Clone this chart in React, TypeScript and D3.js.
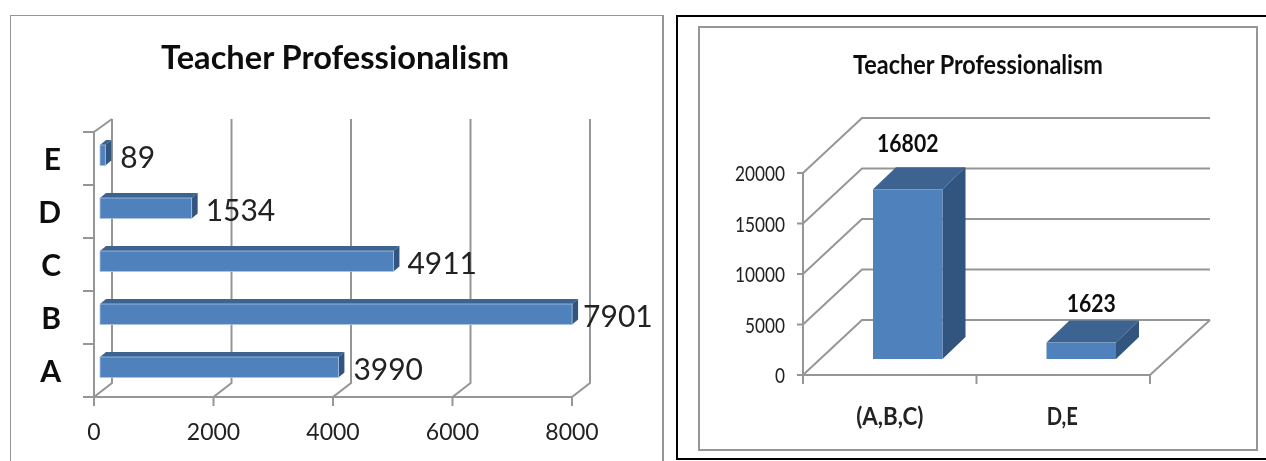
import React from "react";
import * as d3 from "d3";

const title = "Teacher Professionalism";
const leftCategories = ["A", "B", "C", "D", "E"];
const leftValues = [3990, 7901, 4911, 1534, 89];
const leftTicks = [0, 2000, 4000, 6000, 8000];
const rightCategories = ["(A,B,C)", "D,E"];
const rightValues = [16802, 1623];
const rightTicks = [0, 5000, 10000, 15000, 20000];

const GRID = "#969696";
const FRONT = "#4f81bd";
const TOP = "#3c6391";
const SIDE = "#31557f";
const FONT = "Lato, sans-serif";
const pts = (p: number[][]) => p.map((q) => q.join(",")).join(" ");

function LeftChart() {
  const x = d3.scaleLinear().domain([0, 8000]).range([94, 572]);
  const band = d3.scaleBand<string>().domain([...leftCategories].reverse()).range([132, 397]);
  const dx = 18, dy = 14, bx = 6, by = 5;
  const bw = band.bandwidth();
  const barX = x(0) + bx;
  const labelGap = [15, 11, 14, 14, 15];
  return (
    <g fontFamily={FONT}>
      <rect x={10} y={15} width={653} height={470} fill="#fff" stroke="#969696" strokeWidth={2} />
      <text x={335} y={69} textAnchor="middle" fontSize={33} fontWeight={700} fill="#111" textLength={348} lengthAdjust="spacingAndGlyphs">{title}</text>
      {leftTicks.map((t) => (
        <g key={t}>
          <polyline fill="none" stroke={GRID} strokeWidth={2} points={pts([[x(t), 406], [x(t), 397], [x(t) + dx, 397 - dy], [x(t) + dx, 119]])} />
          <text x={x(t)} y={440} textAnchor="middle" fontSize={23} fill="#222">{t}</text>
        </g>
      ))}
      <line x1={x(0)} x2={x(8000)} y1={397} y2={397} stroke={GRID} strokeWidth={2} />
      <polyline fill="none" stroke={GRID} strokeWidth={2} points={pts([[x(0), 397], [x(0), 132], [x(0) + dx, 119]])} />
      {[...band.domain().map((c) => band(c)!), 397].map((y) => (
        <line key={y} x1={83} x2={x(0)} y1={y} y2={y} stroke={GRID} strokeWidth={2} />
      ))}
      {leftCategories.map((c, i) => {
        const top = band(c)! + 13;
        const h = bw - 32.5;
        const end = barX + x(leftValues[i]) - x(0);
        return (
          <g key={c}>
            <polygon fill={TOP} points={pts([[barX, top], [barX + bx, top - by], [end + bx, top - by], [end, top]])} />
            <polygon fill={SIDE} points={pts([[end, top], [end + bx, top - by], [end + bx, top + h - by], [end, top + h]])} />
            <rect x={barX} y={top} width={end - barX} height={h} fill={FRONT} stroke="#a9c3e2" strokeWidth={0.8} />
            <text x={end + labelGap[i]} y={top + h + 2} fontSize={30} fill="#222">{leftValues[i]}</text>
            <text x={61} y={band(c)! + bw / 2 + 11.5} textAnchor="end" fontSize={30} fontWeight={700} fill="#111">{c}</text>
          </g>
        );
      })}
    </g>
  );
}

function RightChart() {
  const y = d3.scaleLinear().domain([0, 20000]).range([375, 173]);
  const band = d3.scaleBand<string>().domain(rightCategories).range([803, 1150]);
  const dx = 59, dy = 55, bdx = 23, bdy = 22;
  const barW = 69.5;
  const lift = 16;
  const labelShift = [0, 10];
  const labelRise = [37, 31];
  const catShift = [0, -1];
  return (
    <g fontFamily={FONT}>
      <rect x={677} y={16} width={592} height={443} fill="#fff" stroke="#000" strokeWidth={2} />
      <rect x={699} y={27} width={558} height={423} fill="#fff" stroke="#969696" strokeWidth={2} />
      <text x={978} y={74} textAnchor="middle" fontSize={27} fontWeight={700} fill="#111" textLength={250} lengthAdjust="spacingAndGlyphs">{title}</text>
      {rightTicks.map((t) => (
        <g key={t}>
          <polyline fill="none" stroke={GRID} strokeWidth={2} points={pts([[797, y(t)], [803, y(t)], [803 + dx, y(t) - dy], [1210, y(t) - dy]])} />
          <text x={785} y={y(t) + 8} textAnchor="end" fontSize={21} fill="#222" textLength={String(t).length * 10} lengthAdjust="spacingAndGlyphs">{t}</text>
        </g>
      ))}
      <line x1={803} x2={803} y1={y(20000)} y2={384} stroke={GRID} strokeWidth={2} />
      <polyline fill="none" stroke={GRID} strokeWidth={2} points={pts([[803, 375], [1150, 375], [1210, 320]])} />
      {[803, 803 + band.step(), 1150].map((v) => (
        <line key={v} x1={v} x2={v} y1={375} y2={384} stroke={GRID} strokeWidth={2} />
      ))}
      {rightCategories.map((c, i) => {
        const center = band(c)! + band.bandwidth() / 2;
        const left = center - barW / 2 + 18;
        const right = left + barW;
        const bottom = y(0) - lift;
        const top = y(rightValues[i]) - lift;
        const mid = (left + right) / 2;
        return (
          <g key={c}>
            <polygon fill={TOP} points={pts([[left, top], [left + bdx, top - bdy], [right + bdx, top - bdy], [right, top]])} />
            <polygon fill={SIDE} points={pts([[right, top], [right + bdx, top - bdy], [right + bdx, bottom - bdy], [right, bottom]])} />
            <rect x={left} y={top} width={barW} height={bottom - top} fill={FRONT} />
            <text x={mid + labelShift[i]} y={top - labelRise[i]} textAnchor="middle" fontSize={25} fontWeight={700} fill="#111" textLength={String(rightValues[i]).length * 12.3} lengthAdjust="spacingAndGlyphs">{rightValues[i]}</text>
            <text x={center + catShift[i]} y={425} textAnchor="middle" fontSize={25} fontWeight={700} fill="#222" textLength={c.length * (i === 0 ? 9.6 : 10.4)} lengthAdjust="spacingAndGlyphs">{c}</text>
          </g>
        );
      })}
    </g>
  );
}

export default function App() {
  return (
    <svg width={1266} height={461} style={{ position: "fixed", left: 0, top: 0, display: "block" }}>
      <defs>
        <filter id="soft" x="0" y="0" width="100%" height="100%">
          <feGaussianBlur stdDeviation="0.45" />
        </filter>
      </defs>
      <rect width={1266} height={461} fill="#fff" />
      <g filter="url(#soft)">
        <LeftChart />
        <RightChart />
      </g>
    </svg>
  );
}
